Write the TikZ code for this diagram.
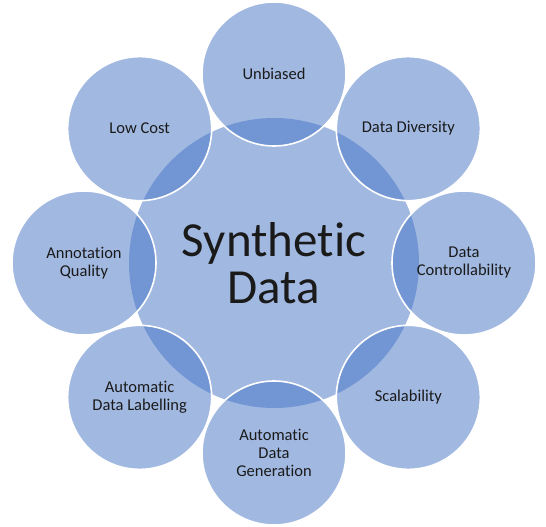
\documentclass[tikz,border=0pt]{standalone}
\usepackage{fontspec}
\setmainfont{Carlito}[Ligatures={NoCommon,NoContextual}]
\definecolor{accent}{HTML}{4472C4}
\definecolor{txt}{HTML}{1A1A1A}
\tikzset{
  hub/.style={circle, minimum size=290pt, inner sep=0pt, fill=accent, fill opacity=0.5, text opacity=1,
     text=txt, align=center, font=\fontsize{49}{47}\selectfont},
  sat/.style={circle, minimum size=144pt, inner sep=0pt, fill=accent, fill opacity=0.5, draw=white, draw opacity=1,
     line width=1.6pt, text opacity=1, text=txt, align=center, font=\fontsize{16.5}{18}\selectfont}
}
\begin{document}
\begin{tikzpicture}[x=1pt,y=-1pt]
\useasboundingbox (0,0) rectangle (546,527);
\node[hub] (c) at (274,263) {Synthetic\\Data};
\node[sat] (s1) at (274,74) {Unbiased};
\node[sat] (s2) at ({274+134.35},{263-134.35}) {Data Diversity};
\node[sat] (s3) at (464,263) {Data\\Controllability};
\node[sat] (s4) at ({274+134.35},{263+134.35}) {Scalability};
\node[sat] (s5) at (274,453) {Automatic\\Data\\Generation};
\node[sat] (s6) at ({274-134.35},{263+134.35}) {Automatic\\Data Labelling};
\node[sat] (s7) at (84,263) {Annotation\\Quality};
\node[sat] (s8) at ({274-134.35},{263-134.35}) {Low Cost};
\end{tikzpicture}
\end{document}
